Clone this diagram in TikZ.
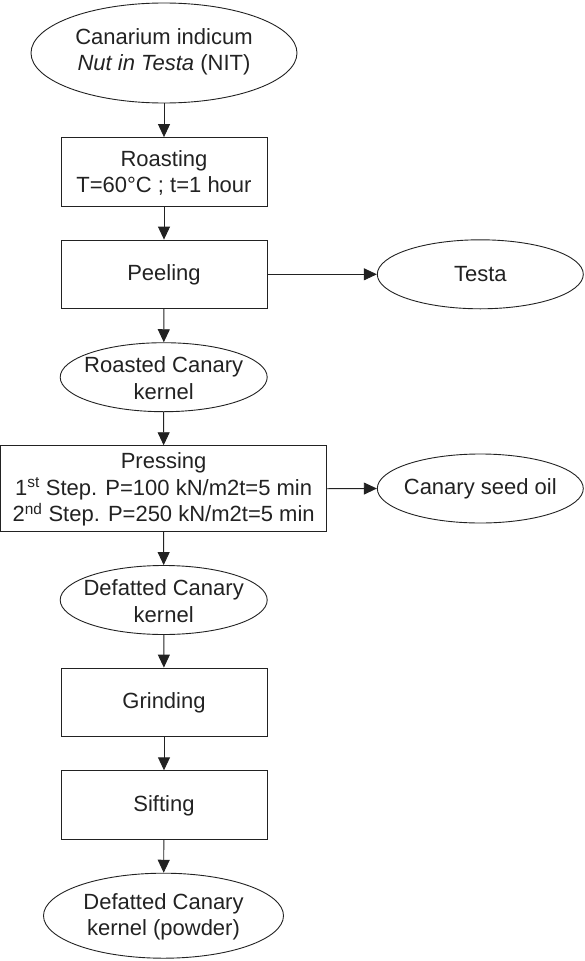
\documentclass[tikz,border=0pt]{standalone}
\usepackage{fontspec}
\setmainfont{Liberation Sans}
\usetikzlibrary{arrows.meta,shapes.geometric}
\definecolor{ink}{HTML}{222222}
\tikzset{
  line/.style={draw=ink, line width=0.9pt},
  oval/.style={line, ellipse, inner sep=0pt},
  procbox/.style={line, rectangle, inner sep=1pt, minimum width=206pt, minimum height=68.5pt},
  txt/.style={inner sep=0pt, align=center, text=ink, font=\fontsize{22pt}{26.5pt}\selectfont},
  flow/.style={line, -{Triangle[length=13pt,width=12pt]}},
}
\begin{document}
\begin{tikzpicture}[x=1pt,y=-1pt]
\useasboundingbox (0,0) rectangle (584,961);
% nodes
\node[oval, minimum width=266pt, minimum height=100pt] (nit) at (164,53) {};
\node[txt] at ([yshift=1pt]nit.center) {Canarium indicum\\\textit{Nut in Testa} (NIT)};
\node[procbox] (roast) at (164,171.8) {};
\node[txt] at ([yshift=-1pt]roast.center) {Roasting\\T=60°C ; t=1 hour};
\node[procbox] (peel) at (164,274.3) {};
\node[txt] at ([yshift=-1pt]peel.center) {Peeling};
\node[oval, minimum width=206pt, minimum height=69pt] (testa) at (480.3,274.3) {};
\node[txt] at (testa.center) {Testa};
\node[oval, minimum width=207pt, minimum height=69pt] (rck) at (163.7,377.2) {};
\node[txt] at ([yshift=-1pt]rck.center) {Roasted Canary\\kernel};
\node[procbox, minimum width=326pt, minimum height=86pt] (press) at (163.6,488.7) {};
\node[txt] at ([yshift=-1pt]press.center) {Pressing\\1\textsuperscript{st} Step. P=100 kN/m2t=5 min\\2\textsuperscript{nd} Step. P=250 kN/m2t=5 min};
\node[oval, minimum width=206pt, minimum height=69pt] (oil) at (480.3,488.5) {};
\node[txt] at (oil.center) {Canary seed oil};
\node[oval, minimum width=207pt, minimum height=69pt] (dck) at (163.7,600) {};
\node[txt] at ([yshift=-1pt]dck.center) {Defatted Canary\\kernel};
\node[procbox] (grind) at (164,702.3) {};
\node[txt] at ([yshift=-1pt]grind.center) {Grinding};
\node[procbox] (sift) at (164,805) {};
\node[txt] at ([yshift=-1pt]sift.center) {Sifting};
\node[oval, minimum width=240pt, minimum height=85pt] (powder) at (163.5,915.7) {};
\node[txt] at ([yshift=-1pt]powder.center) {Defatted Canary\\kernel (powder)};
% connectors
\draw[flow] (nit) -- (roast);
\draw[flow] (roast) -- (peel);
\draw[flow] (peel) -- (rck);
\draw[flow] (rck) -- (press);
\draw[flow] (press) -- (dck);
\draw[flow] (dck) -- (grind);
\draw[flow] (grind) -- (sift);
\draw[flow] (sift) -- (powder);
\draw[flow] (peel.east) -- (testa.west);
\draw[flow] (press.east) -- (oil.west);
\end{tikzpicture}
\end{document}
